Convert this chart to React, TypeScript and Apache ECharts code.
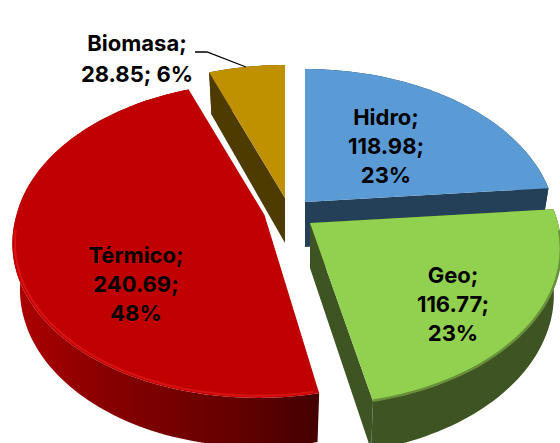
import React, { useEffect, useRef } from "react";
import * as echarts from "echarts";

const categories = ["Hidro", "Geo", "Térmico", "Biomasa"];
const values = [118.98, 116.77, 240.69, 28.85];
const percents = [23, 23, 48, 6];

const topColors = ["#5B9BD5", "#92D050", "#C00000", "#BF9000"];
const cutColors = ["#243F58", "#3E5423", "#4A0000", "#4E3B00"];
const apexes = [[305, 202], [310, 223], [264.5, 215], [285, 198]];
const labelCenters = [[386, 146], [453, 304], [136, 284]];
const drawOrder = [0, 3, 2, 1];

const A = 248, B = 154, K = 0.158, X0 = 300, DEPTH = 45, BOTTOM_SCALE = 0.97;
const FONT = "bold 22px Inter";

function project(i: number, deg: number, r = 1) {
  const t = (deg * Math.PI) / 180;
  const u = r * Math.sin(t), v = r * Math.cos(t);
  const w = 1 + K * v;
  const [ax, ay] = apexes[i];
  const corr = w < 1 ? (ax - X0) * (1 / w - 1) : 0;
  return { x: ax + corr + (A * u) / w, y: ay - (B * v) / w, w };
}
function depthAt(w: number) { return DEPTH * Math.pow(w, -0.5); }
function arc(i: number, a0: number, a1: number, r = 1, down = false) {
  const pts: number[][] = [];
  const n = Math.max(2, Math.ceil(Math.abs(a1 - a0) / 1.5));
  const ax = apexes[i][0];
  for (let k = 0; k <= n; k++) {
    const p = project(i, a0 + ((a1 - a0) * k) / n, r);
    pts.push(down
      ? [ax + (p.x - ax) * BOTTOM_SCALE, p.y + depthAt(p.w)]
      : [p.x, p.y]);
  }
  return pts;
}

const total = values.reduce((s, v) => s + v, 0);
const starts: number[] = [];
values.reduce((s, v, i) => { starts[i] = (s / total) * 360; return s + v; }, 0);

function renderItem(params: any, api: any) {
  const dataI = api.value(0);
  const a0 = starts[dataI];
  const a1 = a0 + (api.value(1) / total) * 360;
  const [ax, ay] = apexes[dataI];
  const apexBottom = [ax, ay + DEPTH];
  const top = arc(dataI, a0, a1);
  const bottom = arc(dataI, a0, a1, 1, true);
  const children: any[] = [];
  const outerFill = dataI === 2
    ? new echarts.graphic.LinearGradient(0, 0, 1, 0, [
        { offset: 0, color: "#AE0000" },
        { offset: 0.3, color: "#880000" },
        { offset: 0.75, color: "#620000" },
        { offset: 1, color: "#430000" },
      ])
    : cutColors[dataI];
  children.push({
    type: "polygon",
    shape: { points: [...top, ...bottom.slice().reverse()] },
    style: { fill: outerFill },
  });
  const faces = [
    [top[0], bottom[0]],
    [top[top.length - 1], bottom[bottom.length - 1]],
  ];
  if (dataI !== 2) {
    faces.forEach((f) => {
      children.push({
        type: "polygon",
        shape: { points: [[ax, ay], f[0], f[1], apexBottom] },
        style: { fill: cutColors[dataI] },
      });
    });
  }
  children.push({
    type: "polygon",
    shape: { points: [[ax, ay], ...top] },
    style: { fill: topColors[dataI] },
  });
  if (dataI === 2) {
    children.push({
      type: "polyline",
      shape: { points: arc(dataI, a0 + 1, a1 - 75, 0.99) },
      style: { stroke: "#D81212", lineWidth: 2, fill: "none" },
    });
  }
  if (dataI === 1) {
    children.push({
      type: "polyline",
      shape: { points: arc(dataI, a0 + 8, a1, 0.998) },
      style: { stroke: "#688F3A", lineWidth: 2.5, fill: "none" },
    });
  }
  if (dataI === 3) {
    children.push({
      type: "text",
      style: {
        x: 137, y: 58.5,
        text: `${categories[3]};\n${api.value(1)}; ${percents[3]}%`,
        font: FONT, lineHeight: 31, fill: "#000",
        align: "center", verticalAlign: "middle",
      },
    });
    children.push({
      type: "polyline",
      shape: { points: [[195, 52], [207, 52], [246, 67]] },
      style: { stroke: "#000", lineWidth: 1.3, fill: "none" },
    });
  } else {
    const [lx, ly] = labelCenters[dataI];
    children.push({
      type: "text",
      z2: 10,
      style: {
        x: lx, y: ly,
        text: `${categories[dataI]};\n${api.value(1)};\n${percents[dataI]}%`,
        font: FONT, lineHeight: 29, fill: "#000",
        align: "center", verticalAlign: "middle",
      },
    });
  }
  return { type: "group", children };
}

export default function App() {
  const ref = useRef<HTMLDivElement>(null);
  useEffect(() => {
    const chart = echarts.init(ref.current!, undefined, { renderer: "svg" });
    chart.setOption({
      animation: false,
      backgroundColor: "#fff",
      series: [{
        type: "custom",
        coordinateSystem: "none",
        renderItem,
        data: drawOrder.map((i) => [i, values[i]]),
        silent: true,
      }],
    });
    return () => chart.dispose();
  }, []);
  return <div ref={ref} style={{ position: "absolute", left: 0, top: 0, width: 560, height: 443 }} />;
}
